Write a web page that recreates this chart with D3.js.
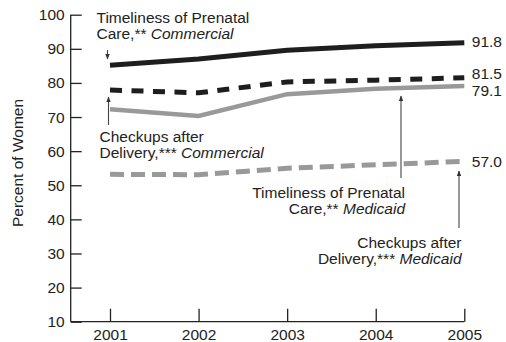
<!DOCTYPE html>
<html>
<head>
<meta charset="utf-8">
<script src="https://cdn.jsdelivr.net/npm/d3@7/dist/d3.min.js"></script>
<style>
  html, body { margin: 0; padding: 0; background: #fff; }
  svg { display: block; font-family: "Liberation Sans", Arial, sans-serif; }
</style>
</head>
<body>
<svg id="chart" width="506" height="342"></svg>
<script>
// Years on the x axis
const years = [2001, 2002, 2003, 2004, 2005];
// Percent of women, by measure and payer
const prenatalCommercial = [85.2, 87.0, 89.6, 90.9, 91.8];
const checkupCommercial  = [77.9, 77.1, 80.3, 80.8, 81.5];
const prenatalMedicaid   = [72.3, 70.3, 76.7, 78.3, 79.1];
const checkupMedicaid    = [53.2, 53.1, 55.0, 56.0, 57.0];
const yTicks = [10, 20, 30, 40, 50, 60, 70, 80, 90, 100];

const FS = 15.5;
const ink = "#222";
const svg = d3.select("#chart");
const x = d3.scalePoint().domain(years).range([110, 464.3]);
const y = d3.scaleLinear().domain([10, 100]).range([321.7, 14.7]);

// Axes: ticks point inward, axis line stops at the last year
svg.append("line").attr("x1", 70.7).attr("x2", 70.7)
  .attr("y1", y(100)).attr("y2", y(10)).attr("stroke", ink).attr("stroke-width", 1.3);
svg.append("line").attr("x1", 70.7).attr("x2", x(2005))
  .attr("y1", y(10)).attr("y2", y(10)).attr("stroke", ink).attr("stroke-width", 1.3);

const yAxis = d3.axisLeft(y).tickValues(yTicks).tickSize(-11).tickPadding(6);
const gy = svg.append("g").attr("transform", "translate(70.7,0)").call(yAxis);
gy.select(".domain").remove();
gy.selectAll(".tick line").attr("stroke", ink).attr("stroke-width", 1.3);
gy.selectAll(".tick text").attr("font-size", FS).attr("fill", ink)
  .attr("font-family", "Liberation Sans, Arial, sans-serif");

const xAxis = d3.axisBottom(x).tickSize(-13).tickPadding(7);
const gx = svg.append("g").attr("transform", `translate(0,${y(10)})`).call(xAxis);
gx.select(".domain").remove();
gx.selectAll(".tick line").attr("stroke", ink).attr("stroke-width", 1.3);
gx.selectAll(".tick text").attr("font-size", FS).attr("fill", ink)
  .attr("font-family", "Liberation Sans, Arial, sans-serif");

svg.append("text")
  .attr("transform", "translate(17,163) rotate(-90)")
  .attr("text-anchor", "middle").attr("dy", "0.36em")
  .attr("font-size", FS).attr("fill", ink)
  .text("Percent of Women");

// Series lines
const line = d3.line().x((d, i) => x(years[i])).y(d => y(d));
const series = [
  { values: checkupMedicaid,    color: "#999999", width: 5,   dash: "14,7" },
  { values: prenatalMedicaid,   color: "#999999", width: 4.5, dash: null },
  { values: checkupCommercial,  color: "#1e1e1e", width: 5,   dash: "12,9.5" },
  { values: prenatalCommercial, color: "#1e1e1e", width: 5,   dash: null }
];
series.forEach(s => {
  svg.append("path").datum(s.values)
    .attr("d", line).attr("fill", "none")
    .attr("stroke", s.color).attr("stroke-width", s.width)
    .attr("stroke-dasharray", s.dash);
});

// Final-year value labels
const endLabels = [
  { v: prenatalCommercial[4], dy: -1.5 },
  { v: checkupCommercial[4], dy: -4.5 },
  { v: prenatalMedicaid[4], dy: 4 },
  { v: checkupMedicaid[4], dy: 0.5 }
];
endLabels.forEach(d => {
  svg.append("text").attr("x", x(2005) + 7.5).attr("y", y(d.v) + d.dy)
    .attr("dy", "0.36em").attr("font-size", FS).attr("fill", ink)
    .text(d.v.toFixed(1));
});

// Callout arrows
const defs = svg.append("defs");
defs.append("marker").attr("id", "head").attr("viewBox", "0 0 10 10")
  .attr("refX", 9).attr("refY", 5).attr("markerWidth", 5).attr("markerHeight", 6)
  .attr("orient", "auto")
  .append("path").attr("d", "M0,1 L10,5 L0,9 Z").attr("fill", "#333");

function arrow(x0, y0, x1, y1) {
  svg.append("line").attr("x1", x0).attr("y1", y0).attr("x2", x1).attr("y2", y1)
    .attr("stroke", "#444").attr("stroke-width", 1.1).attr("marker-end", "url(#head)");
}
arrow(107.5, 50, 107.5, 59);
arrow(108.5, 125, 108.5, 97);
arrow(401, 178, 401, 96);
arrow(459, 228, 459, 171);

// Callout text blocks
function callout(xPos, anchor, y0, first, secondPlain, secondItalic) {
  const t = svg.append("text").attr("x", xPos).attr("y", y0)
    .attr("text-anchor", anchor).attr("font-size", FS).attr("fill", ink);
  t.append("tspan").attr("x", xPos).text(first);
  const t2 = t.append("tspan").attr("x", xPos).attr("dy", 16);
  t2.append("tspan").text(secondPlain);
  t2.append("tspan").attr("font-style", "italic").text(secondItalic);
}
callout(96.5, "start", 22.5, "Timeliness of Prenatal", "Care,** ", "Commercial");
callout(99.5, "start", 141.5, "Checkups after", "Delivery,*** ", "Commercial");
callout(405, "end", 198, "Timeliness of Prenatal", "Care,** ", "Medicaid");
callout(461.5, "end", 248, "Checkups after", "Delivery,*** ", "Medicaid");
</script>
</body>
</html>
